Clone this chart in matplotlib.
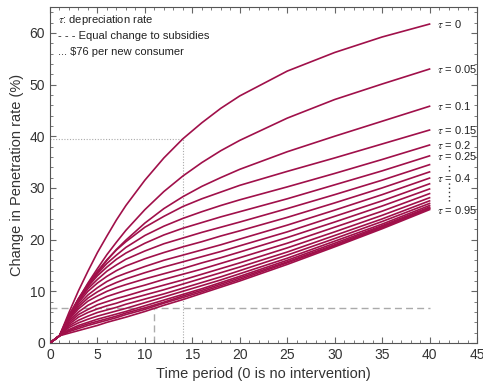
import numpy as np
import matplotlib
matplotlib.use("Agg")
import matplotlib.pyplot as plt
from matplotlib.ticker import MultipleLocator

plt.rcParams["font.family"] = ["Liberation Sans", "DejaVu Sans"]
plt.rcParams["mathtext.fontset"] = "stix"

# --- data ---
time_period = [0, 1, 2, 3, 4, 5, 6, 7, 8, 10, 12, 14, 16, 18, 20, 25, 30, 35, 40]
tau = [0, 0.05, 0.1, 0.15, 0.2, 0.25, 0.3, 0.35, 0.4, 0.45,
       0.5, 0.55, 0.6, 0.65, 0.7, 0.75, 0.8, 0.85, 0.9, 0.95]

# change in penetration rate (%) for each depreciation rate
tau_000 = [0.0, 1.4, 5.9, 10.1, 13.9, 17.5, 20.7, 23.8, 26.6, 31.5, 35.8, 39.5, 42.6, 45.4, 47.8, 52.6, 56.2, 59.2, 61.7]
tau_005 = [0.0, 1.4, 5.1, 8.5, 11.6, 14.4, 17.1, 19.5, 21.8, 25.8, 29.3, 32.3, 34.9, 37.2, 39.2, 43.5, 47.1, 50.1, 53.0]
tau_010 = [0.0, 1.4, 5.0, 8.2, 11.1, 13.6, 16.0, 18.1, 19.9, 23.2, 26.0, 28.3, 30.3, 32.0, 33.6, 37.0, 40.0, 42.9, 45.8]
tau_015 = [0.0, 1.4, 5.3, 8.6, 11.4, 13.9, 16.1, 18.0, 19.6, 22.4, 24.5, 26.4, 27.9, 29.2, 30.5, 33.2, 35.8, 38.5, 41.2]
tau_020 = [0.0, 1.4, 5.3, 8.5, 11.2, 13.4, 15.4, 17.0, 18.5, 20.8, 22.6, 24.1, 25.4, 26.6, 27.7, 30.2, 32.8, 35.5, 38.3]
tau_025 = [0.0, 1.4, 5.3, 8.4, 10.9, 13.0, 14.7, 16.2, 17.4, 19.3, 20.9, 22.2, 23.3, 24.4, 25.4, 27.9, 30.6, 33.3, 36.2]
tau_030 = [0.0, 1.4, 5.2, 8.1, 10.5, 12.3, 13.9, 15.1, 16.2, 17.8, 19.2, 20.3, 21.4, 22.4, 23.4, 26.0, 28.7, 31.5, 34.5]
tau_035 = [0.0, 1.4, 5.1, 7.8, 10.0, 11.6, 12.9, 14.0, 14.9, 16.3, 17.5, 18.6, 19.6, 20.7, 21.7, 24.3, 27.1, 30.0, 33.1]
tau_040 = [0.0, 1.4, 4.9, 7.4, 9.3, 10.7, 11.9, 12.8, 13.5, 14.8, 16.0, 17.0, 18.0, 19.0, 20.1, 22.8, 25.7, 28.7, 31.9]
tau_045 = [0.0, 1.4, 4.7, 7.0, 8.7, 9.9, 10.9, 11.7, 12.4, 13.6, 14.7, 15.7, 16.7, 17.7, 18.8, 21.5, 24.5, 27.5, 30.8]
tau_050 = [0.0, 1.4, 4.5, 6.6, 8.1, 9.1, 10.0, 10.7, 11.3, 12.4, 13.4, 14.4, 15.5, 16.5, 17.6, 20.4, 23.4, 26.5, 29.8]
tau_055 = [0.0, 1.4, 4.2, 6.0, 7.3, 8.2, 9.0, 9.6, 10.2, 11.2, 12.3, 13.3, 14.3, 15.4, 16.5, 19.3, 22.4, 25.5, 28.9]
tau_060 = [0.0, 1.4, 3.9, 5.5, 6.5, 7.4, 8.0, 8.6, 9.1, 10.2, 11.2, 12.2, 13.3, 14.4, 15.5, 18.4, 21.5, 24.7, 28.1]
tau_065 = [0.0, 1.4, 3.6, 5.0, 5.9, 6.6, 7.2, 7.7, 8.3, 9.3, 10.3, 11.4, 12.5, 13.6, 14.7, 17.6, 20.8, 24.0, 27.5]
tau_070 = [0.0, 1.4, 3.3, 4.4, 5.2, 5.9, 6.4, 6.9, 7.5, 8.5, 9.5, 10.6, 11.7, 12.8, 14.0, 17.0, 20.2, 23.5, 27.0]
tau_075 = [0.0, 1.4, 3.0, 3.9, 4.6, 5.2, 5.7, 6.2, 6.7, 7.8, 8.9, 10.0, 11.1, 12.2, 13.4, 16.4, 19.7, 23.0, 26.6]
tau_080 = [0.0, 1.4, 2.6, 3.4, 4.0, 4.6, 5.1, 5.6, 6.1, 7.2, 8.3, 9.4, 10.5, 11.7, 12.9, 16.0, 19.3, 22.7, 26.3]
tau_085 = [0.0, 1.4, 2.4, 3.1, 3.7, 4.2, 4.7, 5.2, 5.8, 6.8, 7.9, 9.1, 10.2, 11.4, 12.6, 15.7, 19.0, 22.5, 26.1]
tau_090 = [0.0, 1.4, 2.2, 2.8, 3.4, 3.9, 4.4, 4.9, 5.5, 6.5, 7.7, 8.8, 9.9, 11.1, 12.3, 15.5, 18.8, 22.3, 26.0]
tau_095 = [0.0, 1.4, 1.9, 2.4, 2.9, 3.4, 4.0, 4.5, 5.0, 6.1, 7.3, 8.4, 9.6, 10.8, 12.0, 15.2, 18.6, 22.1, 25.8]

series = [tau_000, tau_005, tau_010, tau_015, tau_020, tau_025, tau_030, tau_035, tau_040, tau_045,
          tau_050, tau_055, tau_060, tau_065, tau_070, tau_075, tau_080, tau_085, tau_090, tau_095]

labelled = ["0", "0.05", "0.1", "0.15", "0.2", "0.25", "0.4", "0.95"]

# reference marks
dollar76_time, dollar76_rate = 14, 39.5
equal_time, equal_rate = 11, 6.7

# --- plot ---
fig = plt.figure(figsize=(4.83, 3.87), dpi=100)
ax = fig.add_axes([50 / 483, 1 - 343 / 387, 427 / 483, 336 / 387])

color = "#A0104A"
for y in series:
    ax.plot(time_period, y, color=color, lw=1.2, zorder=3)

ax.plot([0, dollar76_time, dollar76_time], [dollar76_rate, dollar76_rate, 0],
        color="#aaaaaa", lw=0.8, ls=(0, (1, 1.5)), zorder=1)
ax.plot([0, time_period[-1]], [equal_rate, equal_rate], color="#aaaaaa", lw=1.0, ls=(0, (5, 3)), zorder=1)
ax.plot([equal_time, equal_time], [0, equal_rate], color="#aaaaaa", lw=1.0, ls=(0, (5, 3)), zorder=1)

# labels at the right end of the curves
for s in labelled:
    i = [f"{v:g}" for v in tau].index(s)
    ax.text(time_period[-1] + 0.8, series[i][-1], r"$\tau$ = " + s,
            fontsize=8, va="center", ha="left", color="#222222")
# vertical dots between labels
ax.plot([42.1, 42.1], [33.3, 34.6], color="#333333", lw=1.0, ls=(0, (1, 2)))
ax.plot([42.1, 42.1], [27.5, 31.1], color="#333333", lw=1.0, ls=(0, (1, 2)))

ax.text(0.019, 0.961, r"$\tau$: depreciation rate", transform=ax.transAxes,
        fontsize=8, va="center", color="#222222")
ax.text(0.019, 0.914, "- - - Equal change to subsidies", transform=ax.transAxes,
        fontsize=8, va="center", color="#222222")
ax.text(0.019, 0.866, "... $76 per new consumer", transform=ax.transAxes,
        fontsize=8, va="center", color="#222222")

ax.set_xlim(0, 45)
ax.set_ylim(0, 65)
ax.xaxis.set_major_locator(MultipleLocator(5))
ax.xaxis.set_minor_locator(MultipleLocator(1))
ax.yaxis.set_major_locator(MultipleLocator(10))
ax.yaxis.set_minor_locator(MultipleLocator(2))
ax.tick_params(which="both", direction="in", top=True, right=True,
               color="#666666", labelcolor="#333333", labelsize=10)
ax.tick_params(which="major", length=4)
ax.tick_params(which="minor", length=2)
for sp in ax.spines.values():
    sp.set_color("#555555")
    sp.set_linewidth(0.8)
ax.set_xlabel("Time period (0 is no intervention)", fontsize=10.5, color="#333333", labelpad=4)
ax.set_ylabel("Change in Penetration rate (%)", fontsize=10.5, color="#333333", labelpad=4)

fig.savefig("out.png")
